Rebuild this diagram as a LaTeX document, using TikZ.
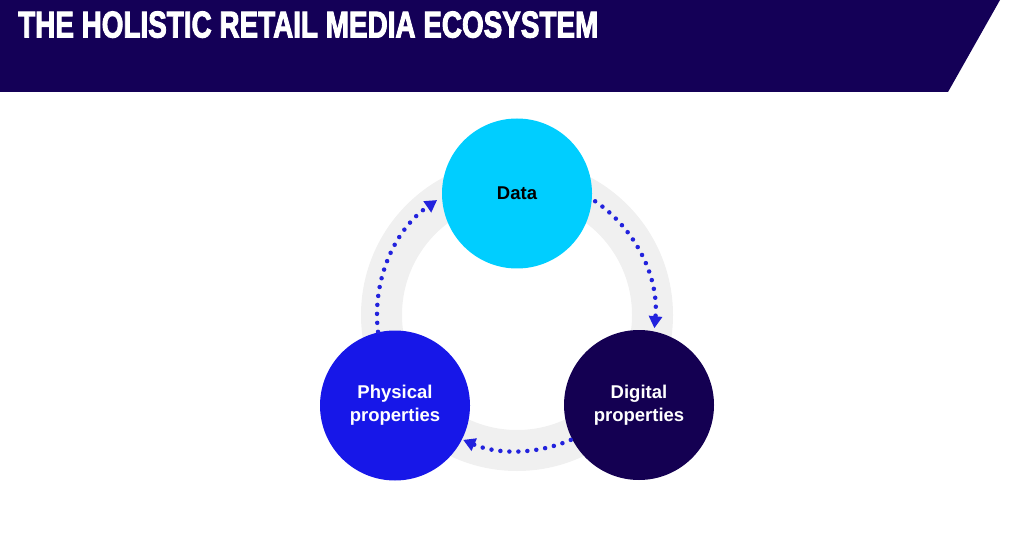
\documentclass[tikz,border=0pt]{standalone}
\usepackage{fontspec}
\setmainfont{Liberation Sans}
\newfontfamily\titlefont{Liberation Sans}[BoldFeatures={FakeBold=3}]
\usetikzlibrary{arrows.meta, positioning}
\definecolor{navy}{HTML}{140057}
\definecolor{cyanball}{HTML}{00CEFF}
\definecolor{blueball}{HTML}{1717E8}
\definecolor{darkball}{HTML}{140052}
\definecolor{ringgray}{HTML}{F0F0F0}
\definecolor{dotblue}{HTML}{2222DD}
\begin{document}
\begin{tikzpicture}[x=1pt,y=1pt,
    ball/.style={circle, minimum size=150pt, inner sep=0pt, align=center, font=\bfseries\fontsize{18.5}{23}\selectfont},
    flow/.style={dotblue, line width=4.5pt, line cap=round, dash pattern=on 0pt off 9pt, -{Triangle[length=12pt,width=13pt]}}]
        \useasboundingbox (0,0) rectangle (1024,533);
        % header band
        \fill[navy] (0,533) -- (1000,533) -- (948,441) -- (0,441) -- cycle;
        \node[anchor=south west, inner sep=0pt, text=white] at (18,495) (title) {\resizebox{580pt}{26pt}{\titlefont\bfseries THE HOLISTIC RETAIL MEDIA ECOSYSTEM}};
        % ring behind the balls
        \coordinate (ring) at (517,218);
        \draw[ringgray, line width=41pt] (ring) circle[radius=135.5];
        \node[ball, fill=cyanball, text=black] at (517,339.5) (data) {Data};
        \node[ball, fill=blueball, text=white] at (395,127.5) (physical) {Physical\\properties};
        \node[ball, fill=darkball, text=white] at (639,128) (digital) {Digital\\properties};
        % dotted arrows along the ring
        \draw[flow] ([shift={(55.5:138)}]ring) arc[start angle=55.5, end angle=-5.5, radius=138];
        \draw[flow] ([shift={(-66.7:136)}]ring) arc[start angle=-66.7, end angle=-113.3, radius=136];
        \draw[flow] ([shift={(186.9:140)}]ring) arc[start angle=186.9, end angle=124.8, radius=140];
\end{tikzpicture}
\end{document}
